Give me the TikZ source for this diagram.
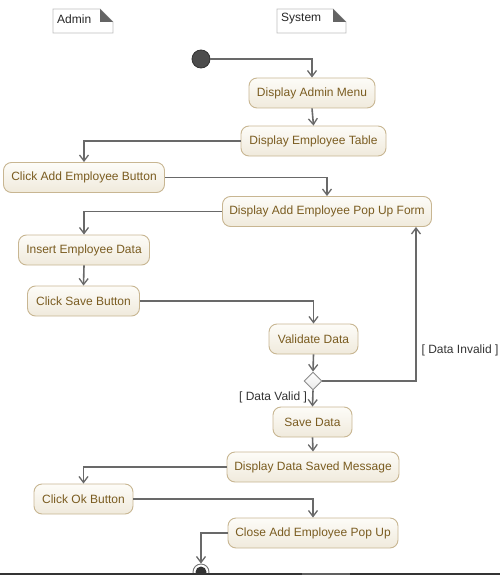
\documentclass[tikz,border=0pt]{standalone}
\usepackage{fontspec}
\setmainfont{Liberation Sans}
\usetikzlibrary{arrows.meta,shapes.geometric,calc}
\definecolor{boxborder}{RGB}{200,182,146}
\definecolor{boxtop}{RGB}{253,252,248}
\definecolor{boxbottom}{RGB}{240,234,220}
\definecolor{boxtext}{RGB}{122,92,32}
\definecolor{flow}{RGB}{105,105,105}
\definecolor{notebd}{RGB}{190,190,190}
\definecolor{fold}{RGB}{100,100,100}
\definecolor{bar}{RGB}{52,52,52}
\definecolor{barlight}{RGB}{96,96,96}
\begin{document}
\begin{tikzpicture}[x=1pt,y=-1pt,
  action/.style={draw=boxborder,line width=0.9pt,rounded corners=8pt,
    top color=boxtop,bottom color=boxbottom,text=boxtext,
    minimum height=30pt,inner sep=0pt,font=\fontsize{12}{14}\selectfont},
  flowline/.style={draw=flow,line width=1.6pt,
    -{Straight Barb[length=6pt,width=9pt,line width=1.3pt]}},
  guard/.style={text=black!80,font=\fontsize{12}{14}\selectfont,inner sep=0pt},
  notetext/.style={text=black!85,font=\fontsize{12}{14}\selectfont,anchor=west,inner sep=0pt}]
\useasboundingbox (0,0) rectangle (500,575);

% swimlane notes
\draw[notebd,fill=white,line width=0.8pt] (53,9) -- (100,9) -- (113,22) -- (113,33) -- (53,33) -- cycle;
\fill[fold] (100,9) -- (113,22) -- (100,22) -- cycle;
\node[notetext] (adminlbl) at (57,19) {Admin};
\draw[notebd,fill=white,line width=0.8pt] (277,9) -- (333,9) -- (346,22) -- (346,33) -- (277,33) -- cycle;
\fill[fold] (333,9) -- (346,22) -- (333,22) -- cycle;
\node[notetext] (systemlbl) at (281,19) {System};

% start and end
\node[circle,draw=black!80,fill=black!70,line width=0.8pt,minimum size=18pt,inner sep=0pt] (start) at (201,59) {};

% actions
\node[action,minimum width=126pt] (dam) at (312,93) {Display Admin Menu};
\node[action,minimum width=145pt] (det) at (313.5,141) {Display Employee Table};
\node[action,minimum width=161pt] (caeb) at (84,177.5) {Click Add Employee Button};
\node[action,minimum width=209pt] (popup) at (327,211.5) {Display Add Employee Pop Up Form};
\node[action,minimum width=131pt] (ied) at (84,250) {Insert Employee Data};
\node[action,minimum width=112pt] (csb) at (83.5,301) {Click Save Button};
\node[action,minimum width=89pt] (vd) at (313.5,339) {Validate Data};
\node[diamond,draw=black!45,line width=0.9pt,top color=white,bottom color=black!8,
  minimum width=18pt,minimum height=18pt,inner sep=0pt] (dec) at (313,381) {};
\node[action,minimum width=79pt] (sd) at (312.5,422) {Save Data};
\node[action,minimum width=172pt] (ddsm) at (313,467) {Display Data Saved Message};
\node[action,minimum width=99pt] (cob) at (83.5,499) {Click Ok Button};
\node[action,minimum width=170pt] (cae) at (313,533) {Close Add Employee Pop Up};

\node[circle,draw=black!55,fill=white,line width=0.9pt,minimum size=16pt,inner sep=0pt] (final) at (201,572) {};
\fill[black!80] (final.center) circle (5.5pt);

% guards
\node[guard] (invalid) at (460,350) {[ Data Invalid ]};
\node[guard] (valid) at (273,397) {[ Data Valid ]};

% control flow
\draw[flowline] (start.east) -| (dam.north);
\draw[flowline] (dam.south) -- (det.north);
\draw[flowline] (det.west) -| (caeb.north);
\draw[flowline] (caeb.east) -| (popup.north);
\draw[flowline] (popup.west) -| (ied.north);
\draw[flowline] (ied.south) -- (csb.north);
\draw[flowline] (csb.east) -| (vd.north);
\draw[flowline] (vd.south) -- (dec.north);
\coordinate (loopcorner) at (416,381);
\draw[flowline] (dec.east) -- (loopcorner) -- (loopcorner |- popup.south);
\draw[flowline] (dec.south) -- (sd.north);
\draw[flowline] (sd.south) -- (ddsm.north);
\draw[flowline] (ddsm.west) -| (cob.north);
\draw[flowline] (cob.east) -| (cae.north);
\draw[flowline] (cae.west) -| (final.north);

% window edge
\fill[bar] (0,572.5) rectangle (500,575);
\fill[barlight] (302,572.5) rectangle (350,575);
\end{tikzpicture}
\end{document}
